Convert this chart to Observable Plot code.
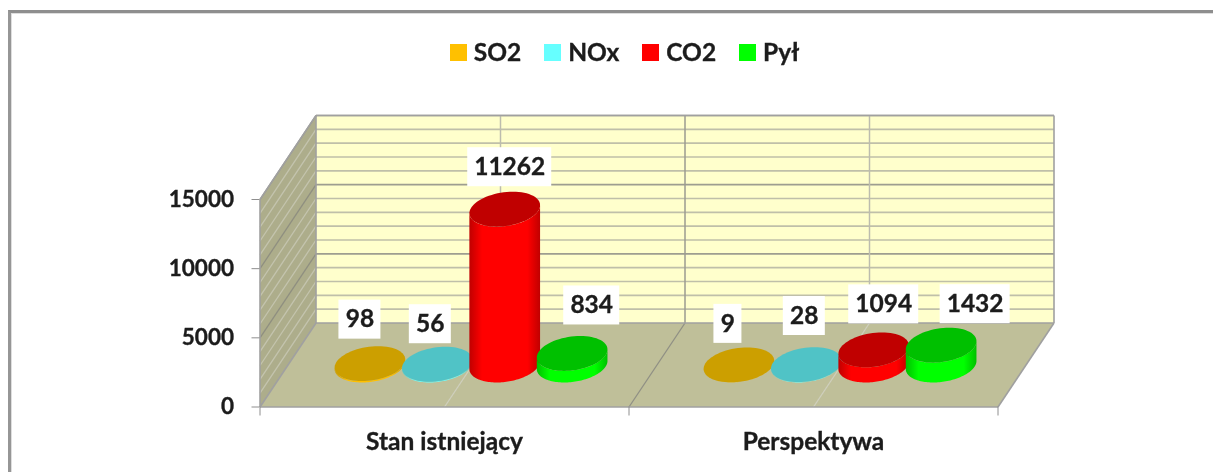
<!DOCTYPE html>
<html lang="pl">
<head>
<meta charset="utf-8">
<script src="https://cdn.jsdelivr.net/npm/d3@7"></script>
<script src="https://cdn.jsdelivr.net/npm/@observablehq/plot@0.6"></script>
<style>
html,body{margin:0;padding:0;background:#fff;width:1213px;height:472px;overflow:hidden}
#chart{position:relative;width:1213px;height:472px;font-family:Lato,sans-serif;font-weight:700;color:#1c1c1c;filter:blur(0.45px)}
#frame{position:absolute;left:8px;top:10px;right:-4px;bottom:-4px;border-top:3px solid #8e8e8e;border-left:3px solid #969696;box-shadow:inset 1px 1px 0 #dedede}
#legend{position:absolute;left:0;top:0;width:1213px;height:90px;display:flex;justify-content:center;padding-top:36px;padding-left:36px;box-sizing:border-box;font-size:24.5px;line-height:32px;-webkit-text-stroke:0.35px #1c1c1c}
#legend span.i{display:flex;align-items:center;margin-right:23px;height:32px}
#legend span.i:last-child{margin-right:0}
#legend span.s{display:inline-block;width:17px;height:17px;margin-right:7px}
#plot{position:absolute;left:0;top:90px}
#plot svg{display:block;overflow:visible}
#plot text{stroke:#1c1c1c;stroke-width:0.35px}
</style>
</head>
<body>
<div id="chart"><div id="frame"></div><div id="legend"></div><div id="plot"></div></div>
<script>
const categories = ["Stan istniejący", "Perspektywa"];
const series = ["SO2", "NOx", "CO2", "Pył"];
const stanIstniejacy = [98, 56, 11262, 834];
const perspektywa = [9, 28, 1094, 1432];
const yTicks = [0, 5000, 10000, 15000];
const minorStep = 1000;

const topColors = ["#cc9f00", "#50c3c6", "#c00000", "#00c000"];
const bodyColors = ["#ffc000", "#66ffff", "#ff0000", "#00ff00"];
const edgeColors = ["#cc9a00", "#52cccc", "#c00000", "#00c000"];

// Hand nudges of the data labels, in pixels from each column's top centre.
const labelNudge = [
  [[-10, -44], [-7, -40], [5, -42], [19.6, -48]],
  [[-11, -41], [-2, -48.6], [10, -45.5], [34, -41]]
];

// Oblique projection: the depth axis shifts x and the value by these amounts (in scale units).
const depthX = 56 / 369;
const depthY = 84 / 207.5 * 15000;
const yMax = 15000;
const P = (x, z, v) => ({x: x + z * depthX, y: v + z * depthY});

const poly = (pts, o) => Plot.line([...pts, pts[0]], {x: "x", y: "y", strokeWidth: 0, stroke: "none", ...o});
const seg = (a, b) => ({x1: a.x, y1: a.y, x2: b.x, y2: b.y});

const minors = d3.range(minorStep, yMax + 1, minorStep);
const isMajor = v => v % 5000 === 0;

const marks = [];
// gradient defs
marks.push(() => {
  const ns = "http://www.w3.org/2000/svg";
  const defs = document.createElementNS(ns, "defs");
  bodyColors.forEach((c, i) => {
    const g = document.createElementNS(ns, "linearGradient");
    g.setAttribute("id", "cyl" + i);
    [[0, edgeColors[i]], [0.18, c], [0.82, c], [1, edgeColors[i]]].forEach(([o, col]) => {
      const s = document.createElementNS(ns, "stop");
      s.setAttribute("offset", o);
      s.setAttribute("stop-color", col);
      g.appendChild(s);
    });
    defs.appendChild(g);
  });
  return defs;
});

// Walls and floor
marks.push(poly([P(0, 1, 0), P(2, 1, 0), P(2, 1, yMax), P(0, 1, yMax)], {fill: "#ffffcc"}));
marks.push(poly([P(0, 0, 0), P(0, 1, 0), P(0, 1, yMax), P(0, 0, yMax)], {fill: "#adad8b"}));
marks.push(poly([P(0, 0, 0), P(2, 0, 0), P(2, 1, 0), P(0, 1, 0)], {fill: "#bfbf99"}));

// Gridlines
const wallLine = (v) => seg(P(0, 1, v), P(2, 1, v));
const sideLine = (v) => seg(P(0, 0, v), P(0, 1, v));
const linkOpts = {x1: "x1", y1: "y1", x2: "x2", y2: "y2"};
marks.push(Plot.link(minors.filter(v => !isMajor(v)).map(wallLine), {...linkOpts, stroke: "#bfbfa9", strokeWidth: 1.6}));
marks.push(Plot.link(minors.filter(isMajor).map(wallLine), {...linkOpts, stroke: "#9d9d90", strokeWidth: 1.6}));
marks.push(Plot.link(minors.filter(v => !isMajor(v)).map(sideLine), {...linkOpts, stroke: "#c4c4ae", strokeWidth: 1.3}));
marks.push(Plot.link(minors.filter(isMajor).map(sideLine), {...linkOpts, stroke: "#8f8f80", strokeWidth: 1.3}));
// Vertical grid on the back wall and floor
const half = [0.5, 1.5], whole = [1];
marks.push(Plot.link(half.map(x => seg(P(x, 1, 0), P(x, 1, yMax))), {...linkOpts, stroke: "#bcbcae", strokeWidth: 1.5}));
marks.push(Plot.link(whole.map(x => seg(P(x, 1, 0), P(x, 1, yMax))), {...linkOpts, stroke: "#9b9b90", strokeWidth: 1.5}));
marks.push(Plot.link(half.map(x => seg(P(x, 0, 0), P(x, 1, 0))), {...linkOpts, stroke: "#cfcfbd", strokeWidth: 1.3}));
marks.push(Plot.link(whole.map(x => seg(P(x, 0, 0), P(x, 1, 0))), {...linkOpts, stroke: "#8f8f84", strokeWidth: 1.3}));
// Outline edges
const edges = [
  seg(P(0, 1, yMax), P(2, 1, yMax)), seg(P(2, 1, 0), P(2, 1, yMax)), seg(P(0, 1, 0), P(0, 1, yMax)),
  seg(P(0, 0, yMax), P(0, 1, yMax)), seg(P(0, 0, 0), P(0, 1, 0)), seg(P(0, 0, 0), P(2, 0, 0)),
  seg(P(2, 0, 0), P(2, 1, 0)), seg(P(0, 1, 0), P(2, 1, 0)), seg(P(0, 0, 0), P(0, 0, yMax))
];
marks.push(Plot.link(edges, {...linkOpts, stroke: "#a0a0a0", strokeWidth: 1.6}));

// Axes
marks.push(Plot.axisY({ticks: yTicks, tickSize: 8, tickPadding: 18, tickFormat: d => String(d), fontSize: 22.5, stroke: "#8e8e8e", fill: "#1c1c1c", label: null, fontVariant: "normal"}));
marks.push(Plot.axisX({ticks: [0, 1, 2], tickSize: 9, tickFormat: () => "", stroke: "#8e8e8e", label: null}));
marks.push(Plot.axisX({ticks: [0.5, 1.5], tickSize: 0, tickPadding: 26, tickFormat: d => categories[Math.floor(d)], fontSize: 24.5, fill: "#1c1c1c", label: null, fontVariant: "normal"}));

// Cylinders: the ellipse leans a little less than the floor's depth direction
const spacing = 67.4 / 369, rx = 0.0932, rz = 0.208, zc = 0.5, barShift = -0.004, lean = 0.7;
const ring = (cx, v, t) => P(cx + rx * Math.cos(t) - (1 - lean) * rz * Math.sin(t) * depthX, zc + rz * Math.sin(t), v);
const tTan = Math.atan2(lean * rz * depthX, rx);
const N = 72;
const labelRows = [];
[stanIstniejacy, perspektywa].forEach((vals, g) => {
  vals.forEach((v, i) => {
    const cx = g + 0.5 + barShift + (i - 1.5) * spacing;
    const top = d3.range(N).map(k => ring(cx, v, k / N * 2 * Math.PI));
    // lower arc: from the right silhouette point round the front to the left one
    const lower = d3.range(N + 1).map(k => tTan - k / N * Math.PI);
    const body = [...lower.map(t => ring(cx, 0, t)), ...lower.slice().reverse().map(t => ring(cx, v, t))];
    marks.push(poly(body, {fill: `url(#cyl${i})`}));
    marks.push(poly(top, {fill: topColors[i]}));
    labelRows.push({...P(cx, zc, v), text: String(v), n: String(v).length, nudge: labelNudge[g][i]});
  });
});

// Data labels on white boxes
labelRows.forEach(r => {
  const w = (14 + 14 * r.n) / 2;
  marks.push(Plot.rect([r], {x1: "x", x2: "x", y1: "y", y2: "y", dx: r.nudge[0], dy: r.nudge[1],
    insetLeft: -w, insetRight: -w, insetTop: -19.5, insetBottom: -19.5, fill: "#fff"}));
  marks.push(Plot.text([r], {x: "x", y: "y", text: "text", dx: r.nudge[0], dy: r.nudge[1], fontSize: 24.5, fontWeight: 700, fill: "#1c1c1c"}));
});

const chart = Plot.plot({
  width: 1213,
  height: 382,
  marginLeft: 259.5,
  marginRight: 215.5,
  marginTop: 109,
  marginBottom: 65.5,
  style: {background: "transparent", fontFamily: "Lato, sans-serif", fontWeight: 700, overflow: "visible"},
  x: {domain: [0, 2]},
  y: {domain: [0, yMax]},
  marks
});
document.getElementById("plot").appendChild(chart);

const legend = d3.select("#legend");
series.forEach((s, i) => {
  const it = legend.append("span").attr("class", "i");
  it.append("span").attr("class", "s").style("background", bodyColors[i]);
  it.append("span").text(s);
});
</script>
</body>
</html>
